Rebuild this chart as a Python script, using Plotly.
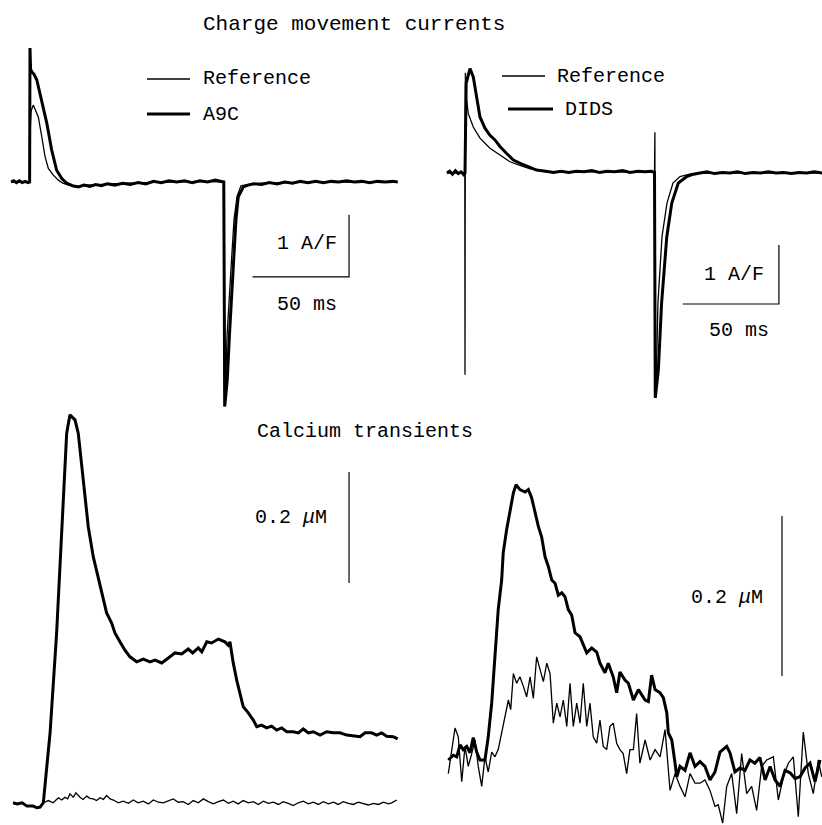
import plotly.graph_objects as go

W, H = 822, 825

# ---------------- data (time in ms, current in A/F, [Ca] in uM) ----------------
# Charge movement currents, left: Reference (thin) vs A9C (thick)
tl_reference = [(-9.8, 0.00), (-0.2, 0.00), (0.2, 0.90), (0.6, 1.15), (1.7, 1.24), (3.0, 1.15),
                (4.3, 1.05), (6.1, 0.73), (7.8, 0.41), (9.5, 0.22), (12.1, 0.11), (14.7, 0.03),
                (17, -0.02), (20, -0.05), (25, -0.07), (30, -0.05), (40, -0.03), (50, -0.02),
                (60, -0.01), (70, 0.00), (80, 0.01), (90, 0.01), (100.3, 0.00), (100.7, -3.62),
                (101.6, -3.03), (102.1, -2.48), (104.1, -1.42), (105.7, -0.61), (107.3, -0.23),
                (109.3, -0.06), (113, -0.04), (120, -0.02), (130, -0.01), (150, 0.00),
                (170, 0.00), (190.5, 0.00)]
tl_a9c = [(-9.8, 0.00), (-8.5, 0.02), (-7, -0.01), (-5.5, 0.02), (-4, -0.01), (-2.5, 0.01),
          (-1, -0.01), (-0.2, 0.00), (0.0, 2.16), (0.3, 1.82), (0.9, 1.78), (2.0, 1.74),
          (3.5, 1.65), (6.1, 1.32), (8.7, 0.95), (11.2, 0.52), (13.8, 0.19), (16.4, 0.06),
          (19.0, -0.02), (22, -0.06), (25, -0.08), (28, -0.05), (31, -0.07), (34, -0.04),
          (37, -0.06), (40, -0.03), (44, -0.05), (48, -0.02), (52, -0.04), (56, -0.01),
          (60, -0.03), (64, 0.01), (68, -0.01), (72, 0.02), (76, 0.00), (80, 0.02),
          (84, -0.01), (88, 0.02), (92, 0.00), (96, 0.03), (99, 0.01), (100.4, 0.00),
          (100.9, -3.62), (102.2, -3.19), (103.3, -2.49), (105.3, -1.42), (106.7, -0.61),
          (107.9, -0.24), (110.5, -0.08), (113, -0.05), (116, -0.03), (120, -0.04),
          (124, -0.01), (128, -0.03), (132, 0.00), (136, -0.02), (140, 0.01), (144, -0.01),
          (148, 0.01), (152, -0.01), (156, 0.01), (160, 0.00), (164, 0.02), (168, 0.00),
          (172, 0.01), (176, -0.01), (180, 0.01), (184, 0.00), (188, 0.01), (190.5, 0.00)]

# Charge movement currents, right: Reference (thin) vs DIDS (thick)
tr_reference = [(-9.4, 0.00), (-0.1, 0.00), (0.0, -3.42), (0.2, 1.70), (0.8, 1.25), (1.7, 1.01),
                (4.3, 0.78), (7.8, 0.59), (13.0, 0.42), (18.2, 0.31), (23.4, 0.19), (28.6, 0.13),
                (34, 0.07), (40, 0.03), (50, 0.02), (70, 0.02), (90, 0.02), (98.7, 0.01),
                (98.9, 0.69), (99.1, -3.81), (99.7, -3.34), (100.5, -2.20), (102.6, -1.08),
                (105.2, -0.51), (108.3, -0.17), (112, -0.06), (118, -0.01), (130, 0.00),
                (186, 0.00)]
tr_dids = [(-9.4, 0.00), (-8, 0.03), (-6.5, -0.02), (-5, 0.04), (-3.5, -0.01), (-2, 0.02),
           (-0.6, -0.03), (0.0, 0.00), (0.6, 1.52), (2.6, 1.77), (4.3, 1.63), (6.1, 1.24),
           (7.8, 0.95), (10.4, 0.76), (13.0, 0.64), (15.6, 0.56), (18.2, 0.45), (21.7, 0.33),
           (25.2, 0.22), (30.4, 0.14), (37.3, 0.05), (42, 0.03), (46, 0.01), (50, 0.03),
           (54, 0.01), (58, 0.03), (62, 0.02), (66, 0.04), (70, 0.01), (74, 0.03), (78, 0.02),
           (82, 0.04), (86, 0.01), (90, 0.03), (94, 0.02), (97, 0.03), (98.7, 0.01),
           (99.1, -3.81), (100.7, -3.34), (102.4, -2.20), (105.1, -1.08), (107.7, -0.51),
           (111.1, -0.17), (115.5, -0.06), (119, -0.02), (122.4, 0.00), (126, 0.02),
           (130, -0.01), (134, 0.01), (138, 0.00), (142, 0.02), (146, -0.01), (150, 0.01),
           (154, 0.00), (158, 0.02), (162, 0.00), (166, 0.01), (170, -0.01), (174, 0.01),
           (178, 0.00), (182, 0.02), (186, 0.00)]

# Calcium transients, left
bl_reference = [(6.9, 0.004), (9.5, 0.008), (12.0, 0.004), (14.7, 0.013), (16.5, 0.009),
                (18.1, 0.014), (19.5, 0.011), (20.7, 0.020), (22.4, 0.014), (23.8, 0.022),
                (25.9, 0.014), (27.5, 0.010), (29.4, 0.016), (31.0, 0.012), (32.8, 0.011),
                (34.5, 0.008), (36.3, 0.013), (38.0, 0.010), (39.7, 0.017), (41.5, 0.011),
                (43.2, 0.009), (45.8, 0.004), (48.3, 0.007), (51.0, 0.003), (53.5, 0.009),
                (56.0, 0.004), (58.7, 0.007), (61.3, 0.002), (63.9, 0.009), (66.5, 0.005),
                (69.1, 0.004), (71.7, 0.008), (74.2, 0.011), (76.8, 0.005), (79.4, 0.006),
                (82.0, 0.001), (84.6, 0.008), (87.2, 0.004), (89.8, 0.011), (92.4, 0.006),
                (95.0, 0.002), (97.6, 0.006), (100.2, 0.009), (102.8, 0.003), (105.3, 0.007),
                (107.9, 0.002), (110.5, 0.008), (113.1, 0.004), (115.7, 0.006), (118.3, 0.001),
                (120.9, 0.007), (123.5, 0.003), (126.1, 0.005), (128.7, 0.001), (131.2, 0.006),
                (133.8, 0.003), (136.4, -0.001), (139.0, 0.004), (141.6, 0.007), (144.2, 0.002),
                (146.8, 0.005), (149.4, 0.001), (152.0, 0.006), (154.6, 0.002), (157.2, 0.005),
                (159.7, 0.001), (162.3, 0.006), (164.9, 0.003), (167.5, 0.001), (170.1, 0.005),
                (172.7, 0.003), (175.3, 0.000), (177.9, 0.003), (180.5, 0.001), (183.1, 0.005),
                (185.7, 0.002), (187.4, 0.004), (190.0, 0.009)]
bl_a9c = [(-8.8, 0.004), (-6.7, 0.002), (-4.1, 0.004), (-1.6, -0.002), (1.6, -0.002),
          (3.6, -0.005), (5.2, -0.004), (6.9, 0.004), (10.4, 0.130), (13.8, 0.310),
          (16.4, 0.490), (18.1, 0.609), (19.0, 0.670), (20.7, 0.703), (23.3, 0.694),
          (25.0, 0.670), (27.6, 0.580), (30.2, 0.501), (32.8, 0.447), (35.4, 0.411),
          (38.0, 0.375), (39.7, 0.346), (42.3, 0.328), (44.0, 0.310), (46.6, 0.294),
          (49.2, 0.279), (51.8, 0.267), (55.3, 0.258), (58.7, 0.263), (62.2, 0.258),
          (64.8, 0.261), (68.2, 0.256), (71.7, 0.265), (75.1, 0.274), (78.6, 0.272),
          (82.0, 0.281), (84.3, 0.274), (87.2, 0.283), (89.0, 0.276), (91.6, 0.294),
          (94.1, 0.292), (97.6, 0.299), (101.0, 0.294), (102.7, 0.288), (103.6, 0.294),
          (105.3, 0.256), (107.1, 0.225), (108.8, 0.202), (110.5, 0.177), (113.1, 0.166),
          (115.7, 0.153), (117.5, 0.141), (120.0, 0.144), (122.6, 0.139), (125.2, 0.142),
          (127.8, 0.135), (130.4, 0.139), (133.0, 0.132), (136.4, 0.132), (139.0, 0.130),
          (141.6, 0.137), (144.2, 0.130), (146.8, 0.132), (150.3, 0.126), (153.7, 0.132),
          (157.1, 0.130), (160.6, 0.130), (164.1, 0.126), (167.5, 0.124), (171.0, 0.123),
          (173.6, 0.130), (177.0, 0.130), (179.6, 0.126), (182.2, 0.130), (184.8, 0.124),
          (188.2, 0.123), (190.5, 0.119)]

# Calcium transients, right
br_reference = [(-8.7, -0.017), (-6.9, 0.013), (-5.2, 0.040), (-3.5, 0.029), (-1.7, -0.027),
                (0.0, 0.017), (1.7, -0.008), (3.5, 0.008), (5.2, 0.025), (6.9, -0.008),
                (8.7, -0.033), (10.4, 0.004), (12.1, -0.015), (13.9, 0.010), (15.6, 0.004),
                (17.3, 0.013), (19.1, 0.033), (20.8, 0.054), (22.6, 0.075), (23.8, 0.063),
                (25.2, 0.108), (26.9, 0.096), (28.6, 0.104), (30.4, 0.092), (32.1, 0.079),
                (33.9, 0.104), (35.6, 0.077), (37.3, 0.129), (39.1, 0.113), (40.8, 0.098),
                (42.6, 0.121), (44.3, 0.108), (46.0, 0.046), (47.8, 0.071), (49.5, 0.054),
                (51.2, 0.075), (53.0, 0.042), (54.7, 0.096), (56.4, 0.042), (58.2, 0.071),
                (59.9, 0.046), (61.6, 0.096), (63.4, 0.042), (65.1, 0.071), (66.8, 0.029),
                (68.6, 0.021), (70.3, 0.050), (72.0, 0.017), (73.8, 0.013), (75.5, 0.042),
                (77.2, 0.046), (79.0, 0.021), (80.7, 0.013), (82.4, 0.008), (84.2, -0.017),
                (85.9, 0.013), (87.7, 0.013), (89.4, 0.058), (91.1, -0.004), (93.8, 0.025),
                (96.4, 0.000), (99.0, 0.013), (101.6, 0.004), (104.2, 0.038), (106.8, -0.038),
                (109.4, -0.017), (112.0, -0.033), (114.6, -0.046), (117.2, -0.017),
                (119.8, -0.029), (122.4, -0.029), (125.0, -0.025), (127.6, -0.038),
                (130.2, -0.058), (131.9, -0.056), (134.2, -0.079), (136.3, -0.033),
                (138.9, -0.017), (141.5, -0.067), (144.1, 0.008), (146.7, -0.042),
                (149.3, -0.033), (151.9, -0.063), (154.5, -0.008), (157.1, 0.000),
                (160.6, 0.004), (163.2, -0.050), (165.8, -0.021), (168.4, -0.004),
                (171.0, 0.004), (173.6, -0.071), (176.2, 0.035), (178.8, -0.017),
                (181.4, -0.042), (184.0, 0.000), (185.8, -0.021)]
br_dids = [(-8.7, 0.000), (-6.1, 0.006), (-4.3, 0.004), (-2.6, 0.019), (-0.9, 0.013),
           (0.9, 0.017), (2.6, 0.009), (4.3, 0.028), (6.1, 0.010), (7.8, 0.000), (10.4, 0.000),
           (12.1, 0.029), (13.9, 0.071), (15.6, 0.129), (17.3, 0.188), (19.1, 0.225),
           (19.9, 0.259), (21.7, 0.288), (23.4, 0.313), (25.2, 0.334), (26.6, 0.344),
           (28.6, 0.338), (31.3, 0.335), (33.0, 0.338), (34.7, 0.328), (36.5, 0.309),
           (38.2, 0.292), (39.9, 0.279), (41.7, 0.254), (43.4, 0.242), (45.2, 0.225),
           (46.9, 0.221), (48.6, 0.206), (50.4, 0.209), (52.1, 0.204), (53.8, 0.188),
           (55.6, 0.181), (57.3, 0.159), (59.9, 0.154), (63.4, 0.134), (66.0, 0.140),
           (68.6, 0.135), (70.3, 0.121), (72.9, 0.109), (74.6, 0.121), (77.2, 0.104),
           (79.0, 0.084), (80.7, 0.110), (83.3, 0.100), (85.1, 0.096), (87.7, 0.075),
           (90.3, 0.088), (91.1, 0.085), (93.8, 0.075), (95.5, 0.073), (97.2, 0.106),
           (99.0, 0.088), (101.6, 0.084), (103.3, 0.078), (105.1, 0.059), (105.9, 0.034),
           (107.7, 0.025), (109.4, -0.004), (110.3, -0.021), (112.0, -0.008), (114.6, -0.013),
           (117.2, 0.009), (119.8, -0.008), (122.4, -0.002), (125.0, -0.008), (127.6, -0.025),
           (130.2, -0.015), (132.8, 0.010), (136.3, 0.017), (138.0, 0.009), (140.6, -0.015),
           (143.2, -0.010), (145.8, -0.013), (148.4, 0.000), (151.0, -0.004), (153.6, 0.003),
           (156.3, -0.025), (158.9, -0.008), (161.5, -0.025), (164.1, -0.033), (166.7, -0.013),
           (169.3, -0.016), (171.9, -0.023), (174.5, -0.021), (177.1, -0.010), (179.7, -0.004),
           (182.3, -0.027), (184.9, 0.000)]

# scale bars
scale_time_ms = 50
scale_current = 1.0     # A/F
scale_calcium = 0.2     # uM
labels = {"title_top": "Charge movement currents", "title_bottom": "Calcium transients",
          "ref": "Reference", "left_drug": "A9C", "right_drug": "DIDS"}

# ---------------- layout helpers ----------------
FONT = "Liberation Mono"


def panel(x0, x1, y0, y1, t_px, px_ms, base_px, px_unit):
    return dict(
        xd=[x0 / W, x1 / W], yd=[1 - y1 / H, 1 - y0 / H],
        xr=[(x0 - t_px) / px_ms, (x1 - t_px) / px_ms],
        yr=[(base_px - y1) / px_unit, (base_px - y0) / px_unit])


panels = [
    panel(0, 420, 0, 412, 30, 1.93, 182, 62),
    panel(420, 822, 0, 412, 465, 1.92, 173, 59),
    panel(0, 420, 412, 825, 30, 1.93, 805, 555),
    panel(420, 822, 412, 825, 465, 1.92, 760, 800),
]

fig = go.Figure()


def add_line(pairs, k, width):
    fig.add_trace(go.Scatter(
        x=[p[0] for p in pairs], y=[p[1] for p in pairs], mode="lines",
        line=dict(color="black", width=width), xaxis=f"x{k}" if k > 1 else "x",
        yaxis=f"y{k}" if k > 1 else "y", hoverinfo="skip", showlegend=False))


THIN, THICK = 1.3, 3.0
add_line(tl_reference, 1, THIN)
add_line(tl_a9c, 1, THICK)
add_line(tr_reference, 2, THIN)
add_line(tr_dids, 2, THICK)
add_line(bl_reference, 3, THIN)
add_line(bl_a9c, 3, THICK)
add_line(br_reference, 4, THIN)
add_line(br_dids, 4, THICK)

# scale bars (in data units of each panel)
t_end_l = 165.3
v_l = -1.53
add_line([(t_end_l - scale_time_ms, v_l), (t_end_l, v_l), (t_end_l, v_l + scale_current)], 1, 1.2)
t_end_r = 163.5
v_r = -2.22
add_line([(t_end_r - scale_time_ms, v_r), (t_end_r, v_r), (t_end_r, v_r + scale_current)], 2, 1.2)
add_line([(165.3, 0.40), (165.3, 0.40 + scale_calcium)], 3, 1.2)
add_line([(165.1, 0.105), (165.1, 0.105 + scale_calcium)], 4, 1.2)

layout = dict(width=W, height=H, margin=dict(l=0, r=0, t=0, b=0),
              paper_bgcolor="white", plot_bgcolor="white", showlegend=False)
for i, p in enumerate(panels, start=1):
    sfx = "" if i == 1 else str(i)
    layout[f"xaxis{sfx}"] = dict(domain=p["xd"], range=p["xr"], visible=False, fixedrange=True,
                                 anchor=f"y{sfx}")
    layout[f"yaxis{sfx}"] = dict(domain=p["yd"], range=p["yr"], visible=False, fixedrange=True,
                                 anchor=f"x{sfx}")
fig.update_layout(**layout)


def ann(text, px, py, xanchor="center", size=20):
    fig.add_annotation(text=text, x=px / W, y=1 - py / H, xref="paper", yref="paper",
                       xanchor=xanchor, yanchor="middle", showarrow=False,
                       font=dict(family=FONT, size=size, color="black"))


def seg(x0, x1, py, width):
    fig.add_shape(type="line", x0=x0 / W, x1=x1 / W, y0=1 - py / H, y1=1 - py / H,
                  xref="paper", yref="paper", line=dict(color="black", width=width))


ann(labels["title_top"], 354, 25, size=21)
ann(labels["title_bottom"], 365, 431, size=20)
# legends
seg(147, 190, 79, THIN)
seg(147, 190, 114, THICK)
ann(labels["ref"], 201, 79, "left")
ann(labels["left_drug"], 201, 114, "left")
seg(502, 545, 76, THIN)
seg(508, 553, 109, THICK)
ann(labels["ref"], 555, 76, "left")
ann(labels["right_drug"], 563, 110, "left")
# scale labels
ann("1 A/F", 307, 243)
ann("50 ms", 307, 305)
ann("1 A/F", 734, 275)
ann("50 ms", 739, 330)
ann("0.2 <i>μ</i>M", 291, 517)
ann("0.2 <i>μ</i>M", 727, 597)

fig.write_html("out.html")
